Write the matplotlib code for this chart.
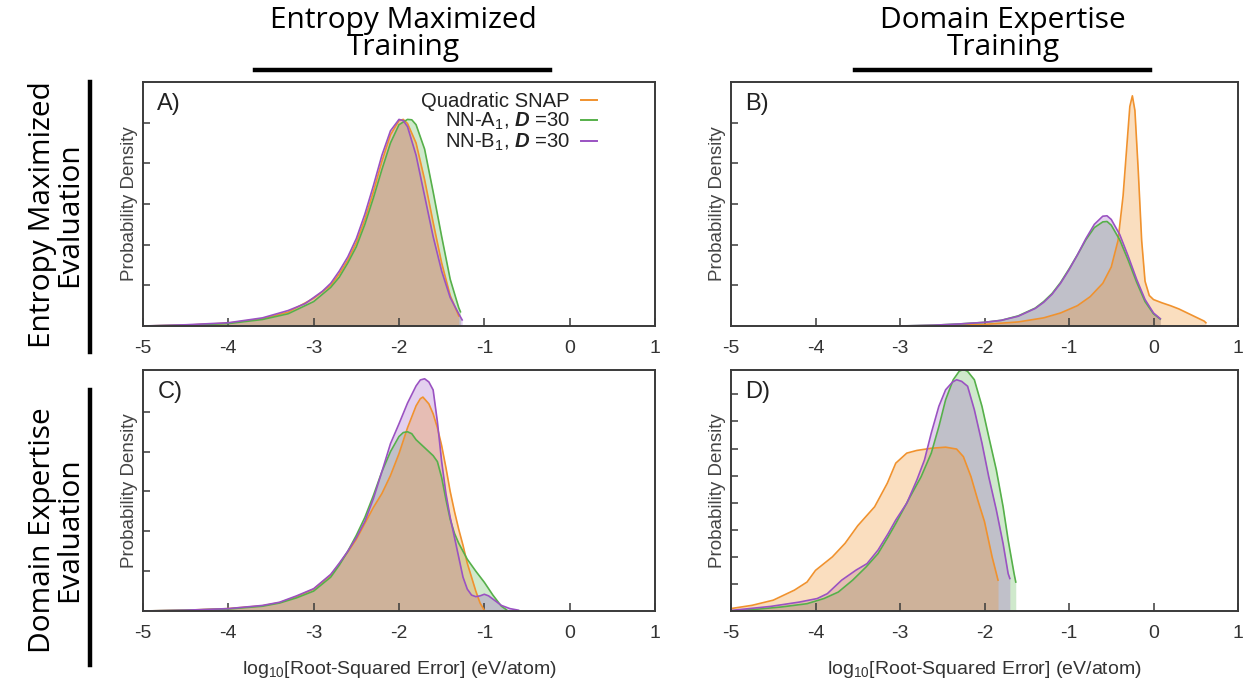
import matplotlib
matplotlib.use("Agg")
import matplotlib.pyplot as plt
from matplotlib.lines import Line2D

plt.rcParams["font.family"] = ["Liberation Sans", "DejaVu Sans"]
plt.rcParams["mathtext.fontset"] = "custom"
plt.rcParams["mathtext.rm"] = "Liberation Sans"
plt.rcParams["mathtext.it"] = "Liberation Sans:italic"
plt.rcParams["mathtext.bf"] = "Liberation Sans:bold"
plt.rcParams["mathtext.bfit"] = "Liberation Sans:italic:bold"
plt.rcParams["mathtext.sf"] = "Liberation Sans"

# ---------------- data: log10 RSE (x) and probability density (y) ----------------
series_labels = ["Quadratic SNAP", r"NN-A$_1$, $\mathbfit{D}$ =30", r"NN-B$_1$, $\mathbfit{D}$ =30"]
series_colors = ["#f0922e", "#56b04a", "#9a52c2"]
fill_alpha = [0.3, 0.28, 0.27]

xtick_values = [-5, -4, -3, -2, -1, 0, 1]
xtick_labels = ["-5", "-4", "-3", "-2", "-1", "0", "1"]
panel_tags = ["A)", "B)", "C)", "D)"]

# Panel A: entropy-maximized training, entropy-maximized evaluation
a_snap_x = [-5.0, -4.5, -4.0, -3.6, -3.3, -3.0, -2.8, -2.7, -2.6, -2.5, -2.4, -2.3, -2.2, -2.1, -2.0, -1.95, -1.9, -1.8, -1.7, -1.6, -1.5, -1.4, -1.3]
a_snap_y = [0.0, 0.02, 0.07, 0.18, 0.34, 0.68, 1.0, 1.28, 1.62, 2.05, 2.62, 3.3, 4.05, 4.7, 5.05, 5.08, 4.98, 4.5, 3.6, 2.55, 1.55, 0.75, 0.25]
a_nna_x = [-5.0, -4.5, -4.0, -3.6, -3.3, -3.0, -2.8, -2.7, -2.6, -2.5, -2.4, -2.3, -2.2, -2.1, -2.0, -1.9, -1.85, -1.8, -1.7, -1.6, -1.5, -1.4, -1.3, -1.28]
a_nna_y = [0.0, 0.02, 0.06, 0.16, 0.3, 0.6, 0.95, 1.2, 1.55, 1.95, 2.5, 3.15, 3.85, 4.5, 4.95, 5.08, 5.07, 4.95, 4.35, 3.3, 2.2, 1.15, 0.45, 0.35]
a_nnb_x = [-5.0, -4.5, -4.0, -3.6, -3.3, -3.1, -2.9, -2.8, -2.7, -2.6, -2.5, -2.4, -2.3, -2.2, -2.1, -2.0, -1.95, -1.9, -1.8, -1.7, -1.6, -1.5, -1.4, -1.3, -1.26]
a_nnb_y = [0.0, 0.03, 0.08, 0.2, 0.38, 0.55, 0.85, 1.05, 1.35, 1.7, 2.15, 2.75, 3.45, 4.2, 4.8, 5.08, 5.05, 4.9, 4.2, 3.2, 2.2, 1.35, 0.7, 0.3, 0.15]

# Panel B: domain-expertise training, entropy-maximized evaluation
b_snap_x = [-3.0, -2.5, -2.0, -1.6, -1.3, -1.1, -0.9, -0.75, -0.6, -0.5, -0.42, -0.36, -0.32, -0.28, -0.25, -0.22, -0.18, -0.14, -0.1, -0.05, 0.0, 0.1, 0.2, 0.3, 0.4, 0.5, 0.6, 0.62]
b_snap_y = [0.0, 0.01, 0.04, 0.1, 0.2, 0.32, 0.5, 0.72, 1.05, 1.45, 2.1, 3.2, 4.3, 5.4, 5.66, 5.3, 3.8, 2.1, 1.1, 0.75, 0.65, 0.57, 0.5, 0.42, 0.32, 0.22, 0.12, 0.08]
b_nna_x = [-3.0, -2.6, -2.3, -2.0, -1.8, -1.6, -1.4, -1.3, -1.2, -1.1, -1.0, -0.9, -0.8, -0.7, -0.6, -0.55, -0.5, -0.4, -0.3, -0.2, -0.1, 0.0, 0.08]
b_nna_y = [0.0, 0.02, 0.05, 0.09, 0.14, 0.25, 0.44, 0.6, 0.8, 1.07, 1.4, 1.75, 2.12, 2.42, 2.56, 2.57, 2.48, 2.12, 1.62, 1.08, 0.6, 0.3, 0.17]
b_nnb_x = [-3.0, -2.6, -2.3, -2.0, -1.8, -1.6, -1.4, -1.3, -1.2, -1.1, -1.0, -0.9, -0.8, -0.7, -0.6, -0.55, -0.5, -0.4, -0.3, -0.2, -0.1, 0.0, 0.08]
b_nnb_y = [0.0, 0.02, 0.05, 0.09, 0.14, 0.24, 0.43, 0.58, 0.78, 1.05, 1.38, 1.75, 2.15, 2.5, 2.7, 2.71, 2.62, 2.25, 1.72, 1.15, 0.65, 0.32, 0.18]

# Panel C: entropy-maximized training, domain-expertise evaluation
c_snap_x = [-5.0, -4.5, -4.0, -3.6, -3.4, -3.2, -3.0, -2.8, -2.7, -2.6, -2.5, -2.4, -2.3, -2.2, -2.1, -2.0, -1.9, -1.8, -1.75, -1.72, -1.65, -1.6, -1.55, -1.5, -1.45, -1.4, -1.35, -1.3, -1.25, -1.2, -1.15, -1.1, -1.05, -1.0]
c_snap_y = [0.0, 0.02, 0.06, 0.13, 0.21, 0.36, 0.55, 0.9, 1.18, 1.48, 1.8, 2.2, 2.6, 2.95, 3.4, 3.95, 4.6, 5.15, 5.33, 5.37, 5.2, 4.95, 4.6, 4.15, 3.6, 3.0, 2.5, 2.05, 1.65, 1.2, 0.85, 0.5, 0.2, 0.02]
c_nna_x = [-5.0, -4.5, -4.0, -3.6, -3.4, -3.2, -3.0, -2.8, -2.7, -2.6, -2.5, -2.4, -2.3, -2.2, -2.1, -2.0, -1.95, -1.9, -1.85, -1.8, -1.7, -1.6, -1.55, -1.5, -1.45, -1.4, -1.35, -1.3, -1.2, -1.1, -1.0, -0.9, -0.8, -0.74]
c_nna_y = [0.0, 0.02, 0.05, 0.12, 0.2, 0.33, 0.5, 0.85, 1.15, 1.5, 1.9, 2.35, 2.9, 3.5, 4.0, 4.38, 4.48, 4.5, 4.45, 4.3, 4.1, 3.9, 3.75, 3.35, 2.8, 2.3, 1.95, 1.7, 1.3, 1.0, 0.72, 0.4, 0.12, 0.03]
c_nnb_x = [-5.0, -4.5, -4.0, -3.6, -3.4, -3.2, -3.0, -2.8, -2.7, -2.6, -2.5, -2.4, -2.3, -2.2, -2.1, -2.0, -1.9, -1.8, -1.75, -1.7, -1.65, -1.6, -1.55, -1.5, -1.45, -1.4, -1.35, -1.3, -1.25, -1.2, -1.15, -1.1, -1.05, -1.0, -0.95, -0.9, -0.8, -0.7, -0.6]
c_nnb_y = [0.0, 0.02, 0.06, 0.14, 0.22, 0.38, 0.56, 0.92, 1.2, 1.5, 1.84, 2.25, 2.82, 3.5, 4.2, 4.7, 5.22, 5.65, 5.8, 5.83, 5.75, 5.55, 4.75, 3.75, 2.95, 2.35, 1.85, 1.35, 0.85, 0.55, 0.4, 0.36, 0.38, 0.42, 0.38, 0.3, 0.14, 0.06, 0.02]

# Panel D: domain-expertise training, domain-expertise evaluation
d_snap_x = [-5.0, -4.75, -4.5, -4.25, -4.1, -4.0, -3.8, -3.65, -3.5, -3.3, -3.15, -3.05, -2.92, -2.8, -2.63, -2.46, -2.33, -2.25, -2.16, -2.08, -2.0, -1.91, -1.84]
d_snap_y = [0.09, 0.21, 0.4, 0.77, 1.07, 1.5, 2.0, 2.5, 3.15, 3.85, 4.72, 5.46, 5.83, 5.93, 6.01, 6.05, 5.98, 5.7, 4.96, 4.1, 3.3, 2.0, 1.14]
d_nna_x = [-5.0, -4.75, -4.4, -4.1, -3.9, -3.73, -3.56, -3.4, -3.26, -3.14, -3.05, -2.88, -2.75, -2.63, -2.54, -2.46, -2.37, -2.3, -2.25, -2.2, -2.12, -2.03, -1.95, -1.86, -1.78, -1.72, -1.65, -1.63]
d_nna_y = [0.0, 0.05, 0.15, 0.27, 0.46, 0.7, 1.14, 1.63, 2.12, 2.74, 3.23, 4.22, 4.96, 5.83, 6.81, 7.8, 8.54, 8.85, 8.92, 8.85, 8.54, 7.56, 6.44, 5.21, 3.85, 2.62, 1.38, 1.07]
d_nnb_x = [-5.0, -4.53, -4.19, -3.98, -3.86, -3.69, -3.52, -3.39, -3.26, -3.14, -3.05, -2.92, -2.8, -2.71, -2.63, -2.54, -2.46, -2.38, -2.33, -2.27, -2.2, -2.12, -2.03, -1.95, -1.86, -1.78, -1.72, -1.7]
d_nnb_y = [0.02, 0.17, 0.33, 0.46, 0.64, 1.14, 1.51, 1.75, 2.25, 2.86, 3.36, 3.98, 4.84, 5.58, 6.57, 7.56, 8.17, 8.45, 8.54, 8.48, 8.3, 7.43, 6.2, 4.96, 3.73, 2.49, 1.38, 1.2]

panels = [
    [(a_snap_x, a_snap_y), (a_nna_x, a_nna_y), (a_nnb_x, a_nnb_y)],
    [(b_snap_x, b_snap_y), (b_nna_x, b_nna_y), (b_nnb_x, b_nnb_y)],
    [(c_snap_x, c_snap_y), (c_nna_x, c_nna_y), (c_nnb_x, c_nnb_y)],
    [(d_snap_x, d_snap_y), (d_nna_x, d_nna_y), (d_nnb_x, d_nnb_y)],
]
panel_ymax = [6.0, 6.0, 6.05, 8.9]
panel_yticks = [[1, 2, 3, 4, 5], [1, 2, 3, 4, 5], [1, 2, 3, 4, 5], [1, 2, 3, 4, 5, 6, 7, 8]]

col_titles = ["Entropy Maximized\nTraining", "Domain Expertise\nTraining"]
row_titles = ["Entropy Maximized\nEvaluation", "Domain Expertise\nEvaluation"]

# ---------------- figure ----------------
W, H = 1243, 679
fig = plt.figure(figsize=(W / 100, H / 100), dpi=100)

def px_axes(left, top, right, bottom):
    return fig.add_axes([left / W, 1 - bottom / H, (right - left) / W, (bottom - top) / H])

boxes = [(143, 82, 655, 326), (731, 82, 1238, 326), (143, 370, 655, 611), (731, 370, 1238, 611)]
axes = [px_axes(*b) for b in boxes]

# fills: NN models first, quadratic SNAP on top of them
fill_order = [1, 2, 0]
frame_color = "#3a3a3a"
for i, ax in enumerate(axes):
    for k in fill_order:
        x, y = panels[i][k]
        ax.fill_between(x, 0, y, color=series_colors[k], alpha=fill_alpha[k], linewidth=0)
    for (x, y), col in zip(panels[i], series_colors):
        ax.plot(x, y, color=col, lw=1.2, solid_joinstyle="round")
    ax.set_xlim(-5, 1)
    ax.set_ylim(0, panel_ymax[i])
    ax.set_xticks(xtick_values)
    ax.set_xticklabels(xtick_labels)
    ax.set_yticks(panel_yticks[i])
    ax.set_yticklabels([])
    ax.tick_params(axis="x", direction="in", length=6, width=1.1, color=frame_color,
                   labelsize=14, labelcolor="#333333", pad=10, top=False)
    ax.tick_params(axis="y", direction="in", length=5, width=1.1, color=frame_color, right=False)
    for s in ax.spines.values():
        s.set_color(frame_color)
        s.set_linewidth(1.4)
    ax.set_ylabel("Probability Density", fontsize=13.5, color="#444444", labelpad=0)
    ax.text(0.028, 0.955, panel_tags[i], transform=ax.transAxes, fontsize=17,
            ha="left", va="top", color="#222222")
    if i >= 2:
        ax.set_xlabel(r"log$_{10}$[Root-Squared Error] (eV/atom)", fontsize=14,
                      color="#333333", labelpad=12)

handles = [Line2D([], [], color=c, lw=1.4) for c in series_colors]
axes[0].legend(handles, series_labels, loc="upper right", bbox_to_anchor=(0.915, 1.018),
               frameon=False, markerfirst=False, fontsize=14.6, handlelength=0.8,
               handletextpad=0.55, labelspacing=0.0, borderaxespad=0.3,
               labelcolor="#222222")

# column and row headers with their rules
head_font = ["Open Sans", "DejaVu Sans"]
for title, cx, (x0, x1) in zip(col_titles, [403, 1003], [(255, 550), (855, 1150)]):
    fig.text(cx / W, 1 - 34 / H, title, ha="center", va="center", fontsize=21.5,
             family=head_font, linespacing=0.88, multialignment="center")
    fig.add_artist(Line2D([x0 / W, x1 / W], [1 - 70 / H, 1 - 70 / H], color="black", lw=3.2,
                          transform=fig.transFigure))

for title, cy, (y0, y1) in zip(row_titles, [215, 530], [(82, 352), (390, 665)]):
    fig.text(56 / W, 1 - cy / H, title, ha="center", va="center", rotation=90, fontsize=21.5,
             family=head_font, linespacing=0.88, multialignment="center")
    fig.add_artist(Line2D([90 / W, 90 / W], [1 - y0 / H, 1 - y1 / H], color="black", lw=3.2,
                          transform=fig.transFigure))

fig.savefig("out.png", dpi=100)
